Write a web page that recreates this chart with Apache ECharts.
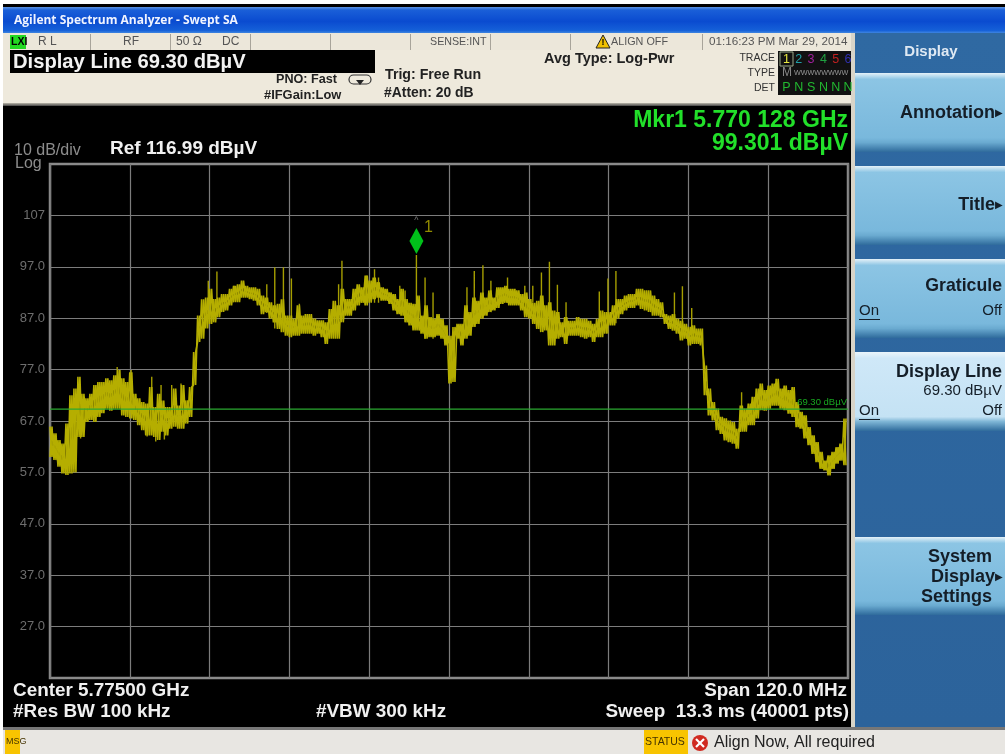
<!DOCTYPE html>
<html><head><meta charset="utf-8">
<style>html,body{margin:0;padding:0;background:#000}#c{width:1005px;height:754px}</style>
<script src="https://cdn.jsdelivr.net/npm/echarts@6/dist/echarts.min.js"></script>
</head><body><div id="c"></div>
<script>
// ---- data : offset from 5.715 GHz in MHz, level in dBuV
const sweepStepMHz = 0.6;
const traceHi = [
65.9,64.6,63.3,62.6,66.5,72,73.3,75.6,72.3,71.4,72.3,74,74.6,74.6,75.3,74.9,75.9,76.9,75.3,74.6,76.5,72.3,71.4,70.7,70.4,73.6,69.7,72.3,71,69.7,69.7,73.3,70,74,71,73.6,
80.4,87.5,90.7,91,92.7,90.7,91,91.7,91.7,92.7,93.3,93.6,94.3,93.3,93,93,92.7,91.4,91,90.1,89.5,89.8,90.7,87.5,87.5,86.9,89.5,87.5,87.8,87.8,86.9,86.6,86.6,86.2,88.8,90.4,89.5,92.7,90.7,90.7,92.7,93.6,93,95.3,94.3,94.9,94,93,92.7,92,91.7,90.7,92.7,90.7,90,89.8,91.4,87.5,89.5,87.2,86.9,87.8,86.9,85.6,
83.6,85.3,85.9,85.9,89.5,88.2,91,90.4,92,91,92.4,91,93,93,93.3,92.7,92.7,92.4,91.7,92,90.7,90,90.4,91.4,89.5,90.1,88.5,88.2,86.2,87.2,86.5,86.5,87.2,86.9,86.9,86.5,85.9,86.9,88.5,88.2,88.2,89.5,90.7,90.7,91.4,91.7,91.7,92.7,92.7,92.4,92.4,91.4,90.7,90.1,87.8,87.5,87.8,86.9,86.5,85.9,85.3,85.6,85,85,
77.8,73.3,70.7,69.4,67.8,67.5,67.1,66.8,65.5,70,69.4,70.4,71.7,73.3,74.3,73,73.9,74.3,75.2,73.3,73.9,73,73.6,70.7,68.8,68.1,65.8,64.2,62.9,61,59.3,60.3,61,61.9,62.6,67.5
];
const traceLo = [
60,59.4,58.1,56.8,56.5,56.8,57,63.9,63.9,66.8,67.2,66.8,67.8,68.5,69.4,69,69.4,69.4,68.1,67.8,67.5,67.2,66.2,65.2,64.2,64.2,63.9,63.3,64.9,64.2,65.5,65.9,65.5,65.5,66.5,67.8,
74,82.4,83,85,85.9,86.2,87.2,88.2,88.5,89.5,90.1,90.1,91,91,90.7,90.4,89.5,87.8,88.2,86.9,86.2,84.9,84.3,83.6,83.3,83.6,83.6,84,84,84,83.6,84,83.3,82,83,83,83,86.2,87.5,87.5,88.5,89.5,90,89.5,90,90.7,91,90.4,90.4,89.8,88.5,87.8,87.5,86.2,85.6,84.6,84.6,84,83,83.3,83.3,83.6,83,81.7,
74.3,74.6,83,81.7,83,83.6,85.3,85.9,86.9,87.5,88.2,88.5,89,89.8,90,89.5,89.5,89.5,88.5,87.2,86.9,85.9,84.9,84.3,84.6,81.7,81.7,83,83.3,82,83.6,83.6,83.6,83.3,83,83.3,82.4,83.3,83.3,84,85.6,85.6,86.9,87.8,88.5,89,89,89.5,88.8,88.5,88.2,87.5,87.5,87.2,85.9,84.9,84.6,84,82.7,83,81.7,82,82,81.7,
72,68.1,67.1,65.2,64.5,63.2,62.9,62.6,61.6,64.9,64.9,66.2,66.2,67.5,69.1,69,69.4,70,70,69.4,69.1,68.4,67.8,65.8,65.5,63.6,62.3,60.6,59,57.7,57.4,56.4,57.7,58.7,59.3,58.4
];
const spikeFreq = [4.6,14.6,15.9,17.2,10.1,12.2,15.3,16.7,18.3,19.7,23.8,25.1,27.7,32.6,33.8,35.1,36.3,37.5,43.4,43.9,47.6,48.8,49.4,52.6,53.4,55.1,56.4,57.6,62.7,63.8,65.1,66.3,68.8,71.4,72.6,73.9,75.1,76.3,77.6,82.6,83.9,85.1,93.9,95.1,96.5,104];
const spikeTop  = [67,67,67,67,77.5,76.9,75.6,74,74,74.3,94.3,96.1,93.3,93.6,96.9,96.9,94.7,89.8,93.6,98.2,95.3,96.5,94.9,93.3,92.4,99.3,94.9,92,93,96.2,97.3,94.3,94.9,93.3,93.3,95.9,98,93.5,90.1,92.2,94.7,96.2,92,93.2,89,72.6];
const spikeBot  = [63.6,64,63,63.4,72,71,70,69,69,69,88,88,91,88,85,85,84,84,88,90,90,90,90,89,88,90,83,83,88,88,88,90,90,90,90,86,83,84,84,84,84,86,85,84,83,66];
const markerFreq = [55.1];
const markerLevel = [99.3];
const displayLine = 69.3;
const yTicks = [27,37,47,57,67,77,87,97,107];
const xDivMHz = 12;
const softKeys = ['Annotation','Title','Graticule','Display Line','System','Display','Settings'];

// ---- series data: the sweep is drawn twice, crossing itself, so the band fills in
const band = [], bandBack = [];
traceHi.forEach((h,i)=>{
  band.push([i*sweepStepMHz,h]); band.push([(i+0.5)*sweepStepMHz,traceLo[i]]);
  bandBack.push([i*sweepStepMHz,traceLo[i]]); bandBack.push([(i+0.5)*sweepStepMHz,h]);
});
const spikes = [];
spikeFreq.forEach((f,i)=>{ spikes.push([f,spikeTop[i]]); spikes.push([f,spikeBot[i]]); spikes.push([f,null]); });

// ---- chrome helpers
const SANS='"Liberation Sans",Arial,sans-serif';
const g=[];
function rect(x,y,w,h,fill,z){g.push({type:'rect',silent:true,z:z||0,shape:{x,y,width:w,height:h},style:{fill}});}
function grad(stops){return {type:'linear',x:0,y:0,x2:0,y2:1,colorStops:stops.map(s=>({offset:s[0],color:s[1]}))};}
function txt(t,x,y,size,fill,o){o=o||{};g.push({type:'text',silent:true,z:5,style:{text:t,x,y,fill,font:(o.bold?'bold ':'')+size+'px '+(o.family||SANS),textAlign:o.align||'left',textVerticalAlign:'middle'}});}

// outer edges and title bar
rect(0,0,1005,4,'#ffffff');rect(0,0,3,754,'#ffffff');
rect(3,7,1002,26,grad([[0,'#5f95e0'],[0.12,'#1a5fd8'],[0.55,'#0a4bd0'],[0.9,'#1560d8'],[1,'#3f85e0']]));
txt('Agilent Spectrum Analyzer - Swept SA',14,20.5,12,'#f0f4ff',{bold:true,family:'"Open Sans",sans-serif'});
// status strip
rect(3,33,852,17,'#ece7da');
[90,170,250,330,410,490,570,702].forEach(x=>rect(x,34,1,16,'#a8a49a'));
rect(10,35,16,14,'#22d822');
txt('LXI',11,42,10.5,'#000',{bold:true});
const statusText=[['R L',38,12],['RF',123,12],['50 Ω',176,12],['DC',222,12],['SENSE:INT',430,10.7],['ALIGN OFF',611,10.8],['01:16:23 PM Mar 29, 2014',709,11.7]];
statusText.forEach(s=>txt(s[0],s[1],42,s[2],'#555'));
g.push({type:'polygon',silent:true,z:4,shape:{points:[[596,48],[603,35],[610,48]]},style:{fill:'#f0c000',stroke:'#222',lineWidth:1}});
txt('!',601.5,42.5,9,'#000',{bold:true});
// settings band
rect(3,50,852,53,'#eee9dc');
rect(3,103,852,3,grad([[0,'#bbb7ab'],[1,'#444']]));
rect(10,50,365,23,'#000');
txt('Display Line 69.30 dBµV',13,62,20.2,'#f2f2f2',{bold:true});
txt('PNO: Fast',276,80,12.6,'#222',{bold:true});
txt('#IFGain:Low',264,95,12.9,'#222',{bold:true});
g.push({type:'rect',silent:true,z:4,shape:{x:349,y:75,width:22,height:9,r:4.5},style:{fill:'transparent',stroke:'#333',lineWidth:1.2}});
g.push({type:'polygon',silent:true,z:4,shape:{points:[[356,80],[364,80],[360,85]]},style:{fill:'#222'}});
txt('Trig: Free Run',385,75,14.2,'#222',{bold:true});
txt('#Atten: 20 dB',384,93,13.9,'#222',{bold:true});
txt('Avg Type: Log-Pwr',544,59,14.5,'#222',{bold:true});
[['TRACE',58],['TYPE',73],['DET',88]].forEach(r=>txt(r[0],775,r[1],10.5,'#333',{align:'right'}));
rect(778,51,73,44,'#111');
g.push({type:'rect',silent:true,z:4,shape:{x:780,y:52,width:13,height:14},style:{fill:'transparent',stroke:'#9aa88a',lineWidth:1}});
[['1','#e8e840'],['2','#20a0a8'],['3','#a0209c'],['4','#20a040'],['5','#c02020'],['6','#3030b0']].forEach((d,i)=>txt(d[0],786.5+i*12.3,60,12.5,d[1],{align:'center'}));
txt('M',787,73,12,'#888',{align:'center'});
txt('WWWWWWWW',794,73,7.2,'#999');
['P','N','S','N','N','N'].forEach((d,i)=>txt(d,786.5+i*12.3,88,12.5,'#22b830',{align:'center'}));
// annotation over plot
txt('Mkr1 5.770 128 GHz',848,121,23,'#22e02a',{bold:true,align:'right'});
txt('99.301 dBµV',848,144,23,'#22e02a',{bold:true,align:'right'});
txt('10 dB/div',14,151,16,'#8c8c8c');
txt('Log',15,164,16,'#8c8c8c');
txt('Ref 116.99 dBµV',110,149,19,'#f0f0f0',{bold:true});
txt('69.30 dBµV',847,402,9.5,'#18a820',{align:'right'});
// lower annotation
txt('Center 5.77500 GHz',13,691,18.9,'#f0f0f0',{bold:true});
txt('#Res BW 100 kHz',13,712,18.9,'#f0f0f0',{bold:true});
txt('#VBW 300 kHz',316,712,18.9,'#f0f0f0',{bold:true});
txt('Span 120.0 MHz',847,691,18.9,'#f0f0f0',{bold:true,align:'right'});
txt('Sweep  13.3 ms (40001 pts)',849,712,18.9,'#f0f0f0',{bold:true,align:'right'});
// message bar
rect(3,727,1002,3,'#777');
rect(3,730,1002,24,'#e8e6e2');
rect(5,730,15,24,'#f8c400');
txt('MSG',6,742,9,'#443300');
rect(644,730,44,24,'#f8c400');
txt('STATUS',645,742,10.5,'#443300');
g.push({type:'circle',silent:true,z:4,shape:{cx:700,cy:743,r:8},style:{fill:'#d02a20'}});
g.push({type:'line',silent:true,z:5,shape:{x1:696,y1:739,x2:704,y2:747},style:{stroke:'#fff',lineWidth:2.2}});
g.push({type:'line',silent:true,z:5,shape:{x1:704,y1:739,x2:696,y2:747},style:{stroke:'#fff',lineWidth:2.2}});
txt('Align Now, All required',714,743,16,'#222');
// softkey panel
rect(851,33,4,694,'#d8d4c8');
rect(855,33,150,694,grad([[0,'#2f69a2'],[1,'#2c639b']]));
txt('Display',931,52,15,'#dfe9f3',{bold:true,align:'center'});
function key(y,h,light){
  rect(855,y,150,h,grad(light?
   [[0,'#eaf5fb'],[0.08,'#cfe8f8'],[0.82,'#c4e2f4'],[0.88,'#7fb6d6'],[1,'#2f6b9c']]:
   [[0,'#e4f1f8'],[0.08,'#8cc5e4'],[0.82,'#79b8dc'],[0.88,'#6aaad0'],[1,'#2f6b9c']]));
}
key(73,79);key(166,79);key(259,79);key(352,79,true);key(537,78);
const KC='#141e28';
function arrow(y){txt('▶',1003,y,10,KC,{align:'right'});}
txt(softKeys[0],995,113,18,KC,{bold:true,align:'right'});arrow(113);
txt(softKeys[1],995,205,18,KC,{bold:true,align:'right'});arrow(205);
txt(softKeys[2],1002,286,17.7,KC,{bold:true,align:'right'});
txt('On',859,311,15,KC);rect(859,319,21,1,KC,5);
txt('Off',1002,311,15,KC,{align:'right'});
txt(softKeys[3],1002,372,18,KC,{bold:true,align:'right'});
txt('69.30 dBµV',1002,391,15,KC,{align:'right'});
txt('On',859,411,15,KC);rect(859,419,21,1,KC,5);
txt('Off',1002,411,15,KC,{align:'right'});
txt(softKeys[4],992,557,18,KC,{bold:true,align:'right'});
txt(softKeys[5],995,577,18,KC,{bold:true,align:'right'});arrow(577);
txt(softKeys[6],992,597,18,KC,{bold:true,align:'right'});

const chart=echarts.init(document.getElementById('c'),null,{renderer:'canvas'});
chart.setOption({
  animation:false,
  backgroundColor:'#000',
  graphic:{elements:g},
  grid:{left:50,top:164,width:798,height:514,show:true,backgroundColor:'transparent',borderColor:'#8a8a8a',borderWidth:2.5,containLabel:false},
  xAxis:{type:'value',min:0,max:120,interval:xDivMHz,
    axisLine:{show:false},axisTick:{show:false},axisLabel:{show:false},
    splitLine:{show:true,lineStyle:{color:'#7c7c7c',width:1.2}}},
  yAxis:{type:'value',min:17,max:117,
    axisLine:{show:false},axisTick:{show:false,customValues:yTicks},
    axisLabel:{show:true,customValues:yTicks,color:'#6e6e6e',fontFamily:SANS,fontSize:13,margin:5,
      formatter:v=>v===107?'107':v.toFixed(1)},
    splitLine:{show:true,lineStyle:{color:'#7c7c7c',width:1.2}}},
  series:[
    {type:'line',name:'spikes',data:spikes,showSymbol:false,symbol:'none',connectNulls:false,silent:true,z:3,
      lineStyle:{color:'#a59e00',width:1.4}},
    {type:'line',name:'trace',data:band,showSymbol:false,symbol:'none',silent:true,z:4,
      lineStyle:{color:'#b5ae00',width:1.6,join:'bevel'}},
    {type:'line',name:'trace back',data:bandBack,showSymbol:false,symbol:'none',silent:true,z:4,
      lineStyle:{color:'#b5ae00',width:1.6,join:'bevel'}},
    {type:'line',name:'display line',data:[[0,displayLine],[120,displayLine]],showSymbol:false,symbol:'none',silent:true,z:5,
      lineStyle:{color:'#2aa830',width:1.2}},
    {type:'scatter',name:'marker',data:markerFreq.map((f,i)=>[f,markerLevel[i]]),symbol:'diamond',symbolSize:[14,26],symbolOffset:[0,-14],silent:true,z:6,
      itemStyle:{color:'#00f020'},
      label:{show:true,formatter:'1',position:'top',offset:[12,13],color:'#b5ae00',fontSize:16,fontFamily:SANS}},
    {type:'scatter',name:'marker caret',data:markerFreq.map((f,i)=>[f,markerLevel[i]]),symbol:'circle',symbolSize:1,silent:true,z:6,
      itemStyle:{color:'transparent'},
      label:{show:true,formatter:'^',position:'top',offset:[0,-24],color:'#9a9a9a',fontSize:9,fontFamily:SANS}}
  ]
});
</script></body></html>
